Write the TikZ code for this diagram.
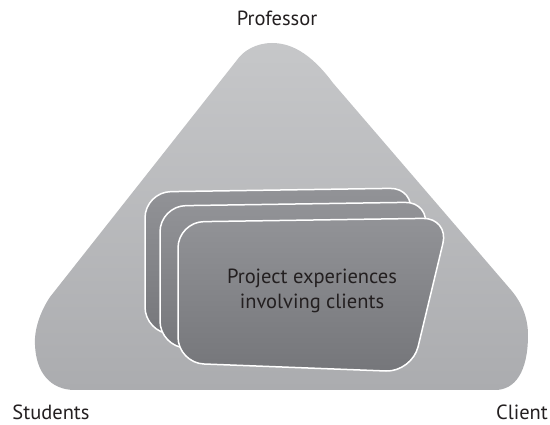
\documentclass[tikz,border=0pt]{standalone}
\usepackage{fontspec}
\setmainfont{PT Sans}
\usepackage{xcolor}
\usepackage{tikz}

\definecolor{triTop}{HTML}{C6C7C9}
\definecolor{triBot}{HTML}{ABACAF}
\definecolor{cardTop}{HTML}{929397}
\definecolor{cardBot}{HTML}{75767A}
\definecolor{ink}{HTML}{231F20}

\tikzset{
  card/.style={draw=white, line width=1.5pt, top color=cardTop, bottom color=cardBot, rounded corners=26pt},
  role/.style={font=\fontsize{20.5}{24}\selectfont, text=ink, anchor=base, inner sep=0pt}
}

\begin{document}
\begin{tikzpicture}[x=1pt,y=-1pt]
\useasboundingbox (0,0) rectangle (550,425);

% rounded triangle behind everything
\path[top color=triTop, bottom color=triBot]
  (75,390) -- (495,390)
  .. controls (515,390) and (528,372) .. (528,335)
  .. controls (528,318) and (522,303) .. (511,290)
  -- (333,83)
  .. controls (310,52) and (290,43) .. (272,43)
  .. controls (256,43) and (243,51) .. (237,60)
  -- (50,297)
  .. controls (40,312) and (34,330) .. (35,345)
  .. controls (36,372) and (50,390) .. (75,390) -- cycle;

% stack of cards, back to front
\foreach \dx/\dy in {-33/-30, -18/-16, 0/0}
  \draw[card, shift={(\dx,\dy)}]
    (178,300) -- (178,222) -- (449,218) -- (412,372) -- (178,363) -- cycle;

\node[align=center, font=\fontsize{20.5}{25}\selectfont, text=ink] (exp) at (312,291)
  {Project experiences\\involving clients};

\node[role] (prof) at (277,26) {Professor};
\node[role] (stud) at (51,420) {Students};
\node[role] (client) at (522,420) {Client};
\end{tikzpicture}
\end{document}
